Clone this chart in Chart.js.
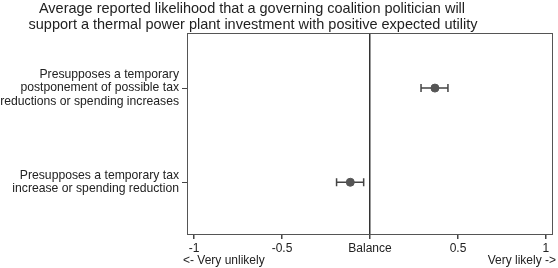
<!DOCTYPE html>
<html>
<head>
<meta charset="utf-8">
<script src="https://cdn.jsdelivr.net/npm/chart.js@4"></script>
<style>
  body { margin: 0; background: #fff; }
  #wrap { width: 558px; height: 268px; }
</style>
</head>
<body>
<div id="wrap"><canvas id="chart"></canvas></div>
<script>
// Data
const categories = [
    ['Presupposes a temporary', 'postponement of possible tax', 'reductions or spending increases'],
    ['Presupposes a temporary tax', 'increase or spending reduction']
];
const means = [0.369, -0.112];
const lower = [0.29, -0.19];
const upper = [0.443, -0.036];
const xTicks = [-1, -0.5, 0, 0.5, 1];
const xTickLabels = ['-1', '-0.5', 'Balance', '0.5', '1'];
const titleLines = ['Average reported likelihood that a governing coalition politician will',
                    'support a thermal power plant investment with positive expected utility'];

const FONT = 'Liberation Sans, Arial, sans-serif';
const INK = '#222';

// Frame, error bars, title and the axis end notes
const extras = {
    id: 'extras',
    beforeDatasetsDraw(chart) {
        const ctx = chart.ctx;
        const x = chart.scales.x, y = chart.scales.y;
        ctx.save();
        ctx.strokeStyle = '#444';
        ctx.lineWidth = 1.5;
        for (let i = 0; i < means.length; i++) {
            const py = y.getPixelForValue(i + 1);
            const x0 = x.getPixelForValue(lower[i]);
            const x1 = x.getPixelForValue(upper[i]);
            ctx.beginPath();
            ctx.moveTo(x0, py); ctx.lineTo(x1, py);
            ctx.moveTo(x0, py - 4); ctx.lineTo(x0, py + 4);
            ctx.moveTo(x1, py - 4); ctx.lineTo(x1, py + 4);
            ctx.stroke();
        }
        ctx.restore();
    },
    afterDraw(chart) {
        const ctx = chart.ctx;
        const a = chart.chartArea;
        ctx.save();
        ctx.strokeStyle = '#555';
        ctx.lineWidth = 1;
        ctx.strokeRect(a.left + 0.5, a.top + 0.5, a.right - a.left - 1, a.bottom - a.top - 1);

        ctx.fillStyle = INK;
        ctx.font = '14.5px ' + FONT;
        ctx.textAlign = 'center';
        ctx.textBaseline = 'middle';
        ctx.fillText(titleLines[0], 252, 9);
        ctx.fillText(titleLines[1], 253, 25);

        ctx.font = '12px ' + FONT;
        ctx.textAlign = 'left';
        ctx.fillText('<- Very unlikely', 183, 261);
        ctx.textAlign = 'right';
        ctx.fillText('Very likely ->', 556, 261);
        ctx.restore();
    }
};

new Chart(document.getElementById('chart').getContext('2d'), {
    type: 'scatter',
    data: {
        datasets: [{
            data: means.map((m, i) => ({ x: m, y: i + 1 })),
            backgroundColor: '#555',
            borderColor: '#555',
            pointRadius: 4,
            pointHoverRadius: 4
        }]
    },
    options: {
        responsive: true,
        maintainAspectRatio: false,
        animation: false,
        layout: { padding: { top: 33, right: 5, left: 0, bottom: 0 } },
        plugins: {
            legend: { display: false },
            tooltip: { enabled: false }
        },
        scales: {
            x: {
                type: 'linear',
                min: -1.04,
                max: 1.04,
                afterBuildTicks: (scale) => { scale.ticks = xTicks.map(v => ({ value: v })); },
                afterFit: (scale) => { scale.height = 33; },
                border: { display: false },
                grid: {
                    color: (c) => (c.tick && c.tick.value === 0 ? '#333' : 'rgba(0,0,0,0)'),
                    lineWidth: 1.5,
                    tickColor: '#444',
                    tickLength: 4,
                    drawTicks: true
                },
                ticks: {
                    color: INK,
                    font: { family: FONT, size: 12 },
                    padding: 2,
                    maxRotation: 0,
                    callback: (v) => xTickLabels[xTicks.indexOf(v)]
                }
            },
            y: {
                type: 'linear',
                reverse: true,
                min: 0.415,
                max: 2.56,
                afterBuildTicks: (scale) => { scale.ticks = [{ value: 1 }, { value: 2 }]; },
                afterFit: (scale) => { scale.width = 187; },
                border: { display: false },
                grid: {
                    drawOnChartArea: false,
                    tickColor: '#444',
                    tickLength: 5
                },
                ticks: {
                    color: INK,
                    font: { family: FONT, size: 12.2, lineHeight: 1.07 },
                    padding: 3,
                    callback: (v) => categories[v - 1]
                }
            }
        }
    },
    plugins: [extras]
});
</script>
</body>
</html>
